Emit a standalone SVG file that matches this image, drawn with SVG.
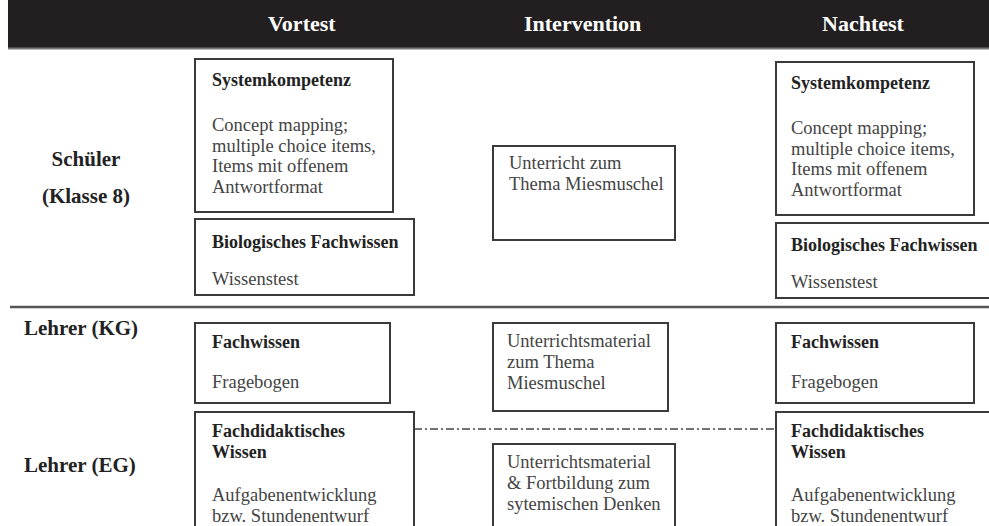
<svg xmlns="http://www.w3.org/2000/svg" width="989" height="526" viewBox="0 0 989 526">
<style>
.box{fill:#fff;stroke:#3a3a3a;stroke-width:2}
.hd{font-family:"Liberation Serif",serif;font-weight:bold;font-size:22px;fill:#fff}
.side{font-family:"Liberation Serif",serif;font-weight:bold;font-size:21px;fill:#222}
.t{font-family:"Liberation Serif",serif;font-weight:bold;font-size:18px;fill:#222}
.b{font-family:"Liberation Serif",serif;font-size:18.5px;fill:#444}
</style>
<rect x="0" y="0" width="989" height="526" fill="#fff"/>
<g id="header">
<rect x="8" y="0" width="981" height="48" fill="#231f20"/>
<line x1="8" y1="48.5" x2="989" y2="48.5" stroke="#777" stroke-width="2"/>
<text class="hd" x="268" y="31">Vortest</text>
<text class="hd" x="524" y="31">Intervention</text>
<text class="hd" x="822" y="31">Nachtest</text>
</g>
<g id="row-labels">
<text class="side" x="86" y="166" text-anchor="middle" font-size="22">Schüler</text>
<text class="side" x="86" y="203" text-anchor="middle" font-size="22">(Klasse 8)</text>
<text class="side" x="24" y="335">Lehrer (KG)</text>
<text class="side" x="24" y="472">Lehrer (EG)</text>
</g>
<g id="connectors">
<line x1="10" y1="307" x2="989" y2="307" stroke="#555" stroke-width="2.5"/>
<line x1="414" y1="429" x2="776" y2="429" stroke="#444" stroke-width="1.5" stroke-dasharray="8,3,2,3"/>
</g>
<g id="v-system">
<rect class="box" x="195" y="59" width="198" height="153"/>
<text class="t" x="212" y="86">Systemkompetenz</text>
<text class="b" x="212" y="131">Concept mapping;</text>
<text class="b" x="212" y="152">multiple choice items,</text>
<text class="b" x="212" y="172">Items mit offenem</text>
<text class="b" x="212" y="193">Antwortformat</text>
</g>
<g id="v-bio">
<rect class="box" x="195" y="219" width="219" height="76"/>
<text class="t" x="212" y="248">Biologisches Fachwissen</text>
<text class="b" x="212" y="285">Wissenstest</text>
</g>
<g id="i-schueler">
<rect class="box" x="493" y="146" width="182" height="94"/>
<text class="b" x="509" y="169">Unterricht zum</text>
<text class="b" x="509" y="190">Thema Miesmuschel</text>
</g>
<g id="n-system">
<rect class="box" x="776" y="62" width="198" height="153"/>
<text class="t" x="791" y="89">Systemkompetenz</text>
<text class="b" x="791" y="134">Concept mapping;</text>
<text class="b" x="791" y="155">multiple choice items,</text>
<text class="b" x="791" y="175">Items mit offenem</text>
<text class="b" x="791" y="196">Antwortformat</text>
</g>
<g id="n-bio">
<rect class="box" x="776" y="223" width="220" height="75"/>
<text class="t" x="791" y="251">Biologisches Fachwissen</text>
<text class="b" x="791" y="288">Wissenstest</text>
</g>
<g id="v-fach">
<rect class="box" x="195" y="323" width="195" height="80"/>
<text class="t" x="212" y="348">Fachwissen</text>
<text class="b" x="212" y="388">Fragebogen</text>
</g>
<g id="i-kg">
<rect class="box" x="493" y="323" width="175" height="88"/>
<text class="b" x="507" y="347">Unterrichtsmaterial</text>
<text class="b" x="507" y="368">zum Thema</text>
<text class="b" x="507" y="389">Miesmuschel</text>
</g>
<g id="n-fach">
<rect class="box" x="776" y="323" width="198" height="80"/>
<text class="t" x="791" y="348">Fachwissen</text>
<text class="b" x="791" y="388">Fragebogen</text>
</g>
<g id="v-didaktik">
<rect class="box" x="195" y="412" width="219" height="130"/>
<text class="t" x="212" y="437">Fachdidaktisches</text>
<text class="t" x="212" y="458">Wissen</text>
<text class="b" x="212" y="501">Aufgabenentwicklung</text>
<text class="b" x="212" y="522">bzw. Stundenentwurf</text>
</g>
<g id="i-eg">
<rect class="box" x="493" y="444" width="182" height="100"/>
<text class="b" x="507" y="468">Unterrichtsmaterial</text>
<text class="b" x="507" y="489">&amp; Fortbildung zum</text>
<text class="b" x="507" y="510">sytemischen Denken</text>
</g>
<g id="n-didaktik">
<rect class="box" x="776" y="412" width="220" height="130"/>
<text class="t" x="791" y="437">Fachdidaktisches</text>
<text class="t" x="791" y="458">Wissen</text>
<text class="b" x="791" y="501">Aufgabenentwicklung</text>
<text class="b" x="791" y="522">bzw. Stundenentwurf</text>
</g>
</svg>
